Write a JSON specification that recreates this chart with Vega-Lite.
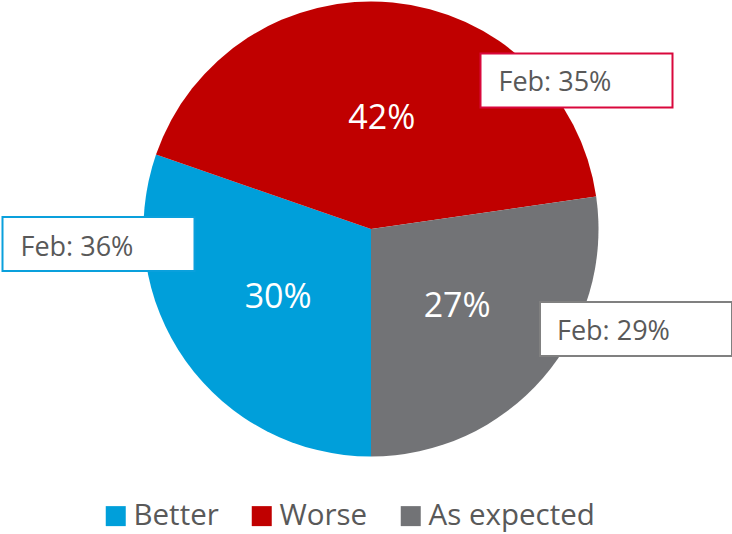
{
  "$schema": "https://vega.github.io/schema/vega-lite/v6.json",
  "autosize": {"type": "none"},
  "width": 722,
  "height": 458,
  "padding": {"left": 10, "top": 0, "right": 0, "bottom": 76},
  "background": "white",
  "config": {"view": {"stroke": null}, "font": "Open Sans"},
  "data": {
    "values": [
      {"category": "Better", "rank": 1, "pct": 0.30, "feb": 0.36},
      {"category": "Worse", "rank": 2, "pct": 0.42, "feb": 0.35},
      {"category": "As expected", "rank": 3, "pct": 0.27, "feb": 0.29}
    ]
  },
  "layer": [
    {
      "mark": {"type": "arc", "outerRadius": 227.5},
      "encoding": {
        "theta": {"field": "pct", "type": "quantitative", "stack": true, "scale": {"range": [3.141592653589793, 9.42477796076938]}},
        "order": {"field": "rank", "type": "quantitative"},
        "color": {
          "field": "category",
          "type": "nominal",
          "sort": ["Better", "Worse", "As expected"],
          "scale": {"domain": ["Better", "Worse", "As expected"], "range": ["#009FDA", "#C00000", "#727376"]},
          "legend": {
            "orient": "none",
            "legendX": 91,
            "legendY": 501,
            "direction": "horizontal",
            "title": null,
            "padding": 0,
            "symbolType": "square",
            "symbolSize": 400,
            "symbolStrokeWidth": 0,
            "symbolOpacity": 1,
            "labelFont": "Open Sans",
            "labelFontSize": 29.5,
            "labelColor": "#595959",
            "labelLimit": 400,
            "labelOffset": 3,
            "columnPadding": 28
          }
        }
      }
    },
    {
      "mark": {"type": "text", "radius": 114, "fontSize": 34, "font": "Open Sans", "align": "center", "baseline": "middle", "dy": 3},
      "encoding": {
        "theta": {"field": "pct", "type": "quantitative", "stack": true},
        "order": {"field": "rank", "type": "quantitative"},
        "text": {"field": "pct", "type": "quantitative", "format": ".0%"},
        "color": {"value": "white"}
      }
    },
    {
      "mark": {
        "type": "point",
        "shape": "M-1,-0.28125L1,-0.28125L1,0.28125L-1,0.28125Z",
        "size": 36864,
        "filled": true,
        "opacity": 1,
        "fill": "white",
        "fillOpacity": 1,
        "strokeWidth": 2,
        "stroke": {"expr": "datum.category == 'Worse' ? '#D9083C' : datum.category == 'Better' ? '#0AA0DC' : '#808080'"},
        "xOffset": {"expr": "datum.category == 'Worse' ? 205.5 : datum.category == 'Better' ? -272.5 : 265"},
        "yOffset": {"expr": "datum.category == 'Worse' ? -148.5 : datum.category == 'Better' ? 15 : 100"}
      },
      "encoding": {}
    },
    {
      "mark": {
        "type": "text",
        "font": "Open Sans",
        "fontSize": 27,
        "color": "#595959",
        "align": "left",
        "baseline": "middle",
        "text": {"expr": "'Feb: ' + format(datum.feb, '.0%')"},
        "dx": {"expr": "datum.category == 'Worse' ? 127.5 : datum.category == 'Better' ? -350.5 : 186"},
        "dy": {"expr": "datum.category == 'Worse' ? -146.4 : datum.category == 'Better' ? 18.9 : 102.9"}
      },
      "encoding": {}
    }
  ]
}
